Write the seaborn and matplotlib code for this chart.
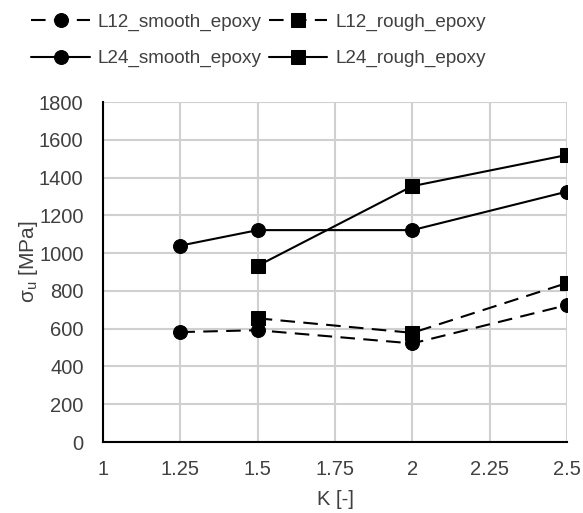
import matplotlib
matplotlib.use("Agg")
import matplotlib.pyplot as plt
import seaborn as sns
import pandas as pd

sns.set_theme(style="white")
plt.rcParams['font.family'] = ['Liberation Sans', 'DejaVu Sans']
plt.rcParams['mathtext.fontset'] = 'custom'
plt.rcParams['mathtext.rm'] = 'Liberation Sans'

series_names = ["L12_smooth_epoxy", "L12_rough_epoxy", "L24_smooth_epoxy", "L24_rough_epoxy"]
k_l12_smooth = [1.25, 1.5, 2.0, 2.5]
v_l12_smooth = [582, 592, 522, 725]
k_l12_rough = [1.5, 2.0, 2.5]
v_l12_rough = [655, 578, 842]
k_l24_smooth = [1.25, 1.5, 2.0, 2.5]
v_l24_smooth = [1040, 1122, 1122, 1326]
k_l24_rough = [1.5, 2.0, 2.5]
v_l24_rough = [933, 1355, 1520]
x_ticks = [1, 1.25, 1.5, 1.75, 2, 2.25, 2.5]
x_tick_labels = ["1", "1.25", "1.5", "1.75", "2", "2.25", "2.5"]
y_ticks = [0, 200, 400, 600, 800, 1000, 1200, 1400, 1600, 1800]

data = [(k_l12_smooth, v_l12_smooth), (k_l12_rough, v_l12_rough),
        (k_l24_smooth, v_l24_smooth), (k_l24_rough, v_l24_rough)]
styles = [((0, (7, 4)), 'o'), ((0, (7, 4)), 's'), ('-', 'o'), ('-', 's')]

fig = plt.figure(figsize=(5.83, 5.13), dpi=100)
ax = fig.add_axes([0.1767, 0.1384, 0.7959, 0.6626])

for name, (ks, vs), (ls, mk) in zip(series_names, data, styles):
    df = pd.DataFrame({"K": ks, "v": vs})
    sns.lineplot(data=df, x="K", y="v", ax=ax, color="black", linestyle=ls,
                 linewidth=1.5, marker=mk, markersize=10, markeredgecolor="black",
                 label=name)

ax.set_xlim(1, 2.5)
ax.set_ylim(0, 1800)
ax.set_xticks(x_ticks)
ax.set_xticklabels(x_tick_labels)
ax.set_yticks(y_ticks)
ax.grid(True, color="#d0d0d0", linewidth=1.5)
ax.set_axisbelow(True)
for s in ["top", "right"]:
    ax.spines[s].set_visible(False)
for s in ["left", "bottom"]:
    ax.spines[s].set_color("black")
    ax.spines[s].set_linewidth(1.5)
ax.tick_params(axis="both", length=0, labelsize=14.5, colors="#404040")
ax.tick_params(axis="y", pad=14)
ax.tick_params(axis="x", pad=13)
ax.set_xlabel("K [-]", fontsize=14.5, color="#404040", labelpad=8)
ax.set_ylabel(r"σ$_\mathrm{u}$ [MPa]", fontsize=15, color="#404040")
ax.yaxis.set_label_coords(-0.135, 0.53)

handles, labels = ax.get_legend_handles_labels()
order = [0, 2, 1, 3]
leg = ax.legend([handles[i] for i in order], [labels[i] for i in order],
                loc="lower center", bbox_to_anchor=(0.335, 1.08), ncol=2, frameon=False,
                fontsize=13.6, handlelength=3.1, handletextpad=0.4, columnspacing=0.4,
                labelspacing=1.0, borderaxespad=0)
for t in leg.get_texts():
    t.set_color("#404040")

fig.savefig("out.png", dpi=100)
